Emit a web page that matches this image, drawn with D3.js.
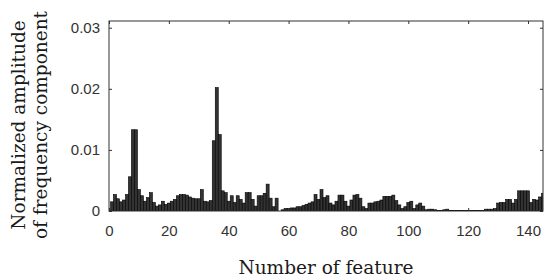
<!DOCTYPE html>
<html>
<head>
<meta charset="utf-8">
<script src="https://d3js.org/d3.v7.min.js"></script>
<style>
  body { margin: 0; background: #fff; }
  .tick text { font-family: "Liberation Sans", Arial, sans-serif; font-size: 15px; fill: #333; }
  .lab { font-family: "DejaVu Serif", serif; font-size: 18.5px; fill: #1a1a1a; }
</style>
</head>
<body>
<div id="chart"></div>
<script>
// normalized amplitude of each feature (feature 1..145)
var values = [
  0.0015,0.0027,0.0020,0.0015,0.0018,0.0027,0.0056,0.0133,0.0133,0.0035,
  0.0025,0.0016,0.0022,0.0030,0.0014,0.0008,0.0010,0.0016,0.0011,0.0013,
  0.0016,0.0019,0.0025,0.0027,0.0027,0.0026,0.0023,0.0021,0.0020,0.0020,
  0.0035,0.0016,0.0015,0.0017,0.0115,0.0202,0.0125,0.0033,0.0030,0.0016,
  0.0025,0.0014,0.0025,0.0019,0.0013,0.0030,0.0030,0.0019,0.0008,0.0025,
  0.0025,0.0029,0.0044,0.0021,0.0007,0.0021,0.0000,0.0002,0.0004,0.0004,
  0.0005,0.0005,0.0007,0.0007,0.0009,0.0011,0.0013,0.0015,0.0027,0.0019,
  0.0035,0.0022,0.0025,0.0013,0.0010,0.0016,0.0026,0.0026,0.0016,0.0008,
  0.0018,0.0026,0.0027,0.0021,0.0007,0.0004,0.0013,0.0013,0.0015,0.0016,
  0.0018,0.0024,0.0024,0.0024,0.0026,0.0017,0.0010,0.0004,0.0007,0.0014,
  0.0016,0.0004,0.0010,0.0013,0.0008,0.0002,0.0003,0.0003,0.0002,0.0001,
  0.0001,0.0002,0.0003,0.0001,0.0001,0.0001,0.0001,0.0001,0.0001,0.0001,
  0.0001,0.0001,0.0001,0.0001,0.0001,0.0003,0.0003,0.0003,0.0004,0.0013,
  0.0014,0.0014,0.0019,0.0019,0.0013,0.0019,0.0033,0.0033,0.0033,0.0033,
  0.0014,0.0019,0.0018,0.0023,0.0029
];
var features = values.map(function(d, i) { return i + 1; });

var xTicks = [0, 20, 40, 60, 80, 100, 120, 140];
var yTicks = [0, 0.01, 0.02, 0.03];

var margin = {top: 21, right: 7, bottom: 67, left: 109},
    width = 550 - margin.left - margin.right,
    height = 278 - margin.top - margin.bottom;

var svg = d3.select("#chart")
  .append("svg")
    .attr("width", 550)
    .attr("height", 278)
  .append("g")
    .attr("transform", "translate(" + margin.left + "," + margin.top + ")");

var x = d3.scaleLinear().domain([0, 145]).range([0, width]);
var y = d3.scaleLinear().domain([0, 0.0311]).range([height, 0]);

svg.append("clipPath").attr("id", "clip")
  .append("rect").attr("width", width).attr("height", height);

// bars
svg.append("g").attr("clip-path", "url(#clip)")
  .selectAll("rect")
  .data(features)
  .enter()
  .append("rect")
    .attr("x", function(d) { return x(d - 0.5); })
    .attr("width", x(1) - x(0))
    .attr("y", function(d, i) { return y(values[i]); })
    .attr("height", function(d, i) { return height - y(values[i]); })
    .attr("fill", "#333")
    .attr("stroke", "#000")
    .attr("stroke-width", 0.6);

// axes (inward ticks, box on)
svg.append("g")
  .attr("transform", "translate(0," + height + ")")
  .call(d3.axisBottom(x).tickValues(xTicks).tickSizeInner(-3).tickSizeOuter(0).tickPadding(14));
svg.append("g")
  .call(d3.axisTop(x).tickValues(xTicks).tickSizeInner(-3).tickSizeOuter(0).tickFormat(""));
svg.append("g")
  .call(d3.axisLeft(y).tickValues(yTicks).tickSizeInner(-3).tickSizeOuter(0).tickPadding(9)
    .tickFormat(function(d) { return d === 0 ? "0" : d3.format(".2f")(d); }));
svg.append("g")
  .attr("transform", "translate(" + width + ",0)")
  .call(d3.axisRight(y).tickValues(yTicks).tickSizeInner(-3).tickSizeOuter(0).tickFormat(""));

svg.selectAll(".domain").remove();
svg.selectAll(".tick line").attr("stroke", "#333");

svg.append("rect")
  .attr("width", width)
  .attr("height", height)
  .attr("fill", "none")
  .attr("stroke", "#333")
  .attr("stroke-width", 1);

// labels
svg.append("text")
  .attr("class", "lab")
  .attr("x", width / 2)
  .attr("y", height + 63)
  .attr("text-anchor", "middle")
  .text("Number of feature");

var yl = svg.append("text")
  .attr("class", "lab")
  .attr("transform", "translate(" + (-margin.left + 25) + "," + (height / 2 + 9) + ") rotate(-90)")
  .attr("text-anchor", "middle");
yl.append("tspan").attr("x", 0).attr("dy", 0).text("Normalized amplitude");
yl.append("tspan").attr("x", 0).attr("dy", "1.2em").text("of frequency component");
</script>
</body>
</html>
